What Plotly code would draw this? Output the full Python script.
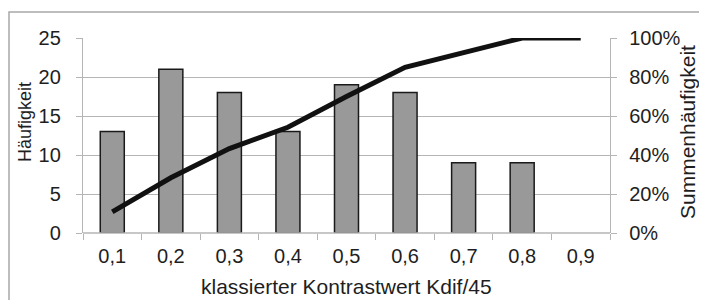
import plotly.graph_objects as go

categories = ["0,1", "0,2", "0,3", "0,4", "0,5", "0,6", "0,7", "0,8", "0,9"]
haeufigkeit = [13, 21, 18, 13, 19, 18, 9, 9, 0]
summenhaeufigkeit = [0.108, 0.283, 0.433, 0.542, 0.70, 0.85, 0.925, 1.0, 1.0]
left_ticks = [0, 5, 10, 15, 20, 25]
right_ticks = [0, 0.2, 0.4, 0.6, 0.8, 1.0]

FONT = "Liberation Sans, Arial, sans-serif"
TXT = "#1e1e1e"
GRID = "#b5b5b5"

# page has an 8px body margin; plot area spans page x 83..610, y 38..233
PX0, PW, PY0, PH = 83, 527, 38, 195


def px(x):
    return (x - PX0) / PW


def py(y):
    return (PY0 + PH - y) / PH


fig = go.Figure()
fig.add_trace(go.Bar(
    x=categories, y=haeufigkeit, width=0.41,
    marker=dict(color="#999999",
                line=dict(color="#1a1a1a", width=[1.5 if v else 0 for v in haeufigkeit])),
    yaxis="y", showlegend=False,
))
fig.add_trace(go.Scatter(
    x=categories, y=summenhaeufigkeit, mode="lines",
    line=dict(color="#111111", width=5),
    yaxis="y2", cliponaxis=False, showlegend=False,
))

fig.update_layout(
    width=699, height=292,
    margin=dict(l=75, r=97, t=30, b=67),
    paper_bgcolor="white", plot_bgcolor="white",
    font=dict(family=FONT, size=20, color=TXT),
    xaxis=dict(
        type="category", tickson="boundaries", ticks="outside", ticklen=6,
        tickcolor=GRID, tickwidth=1.3, showline=False, showgrid=False,
        tickfont=dict(size=20), ticklabelstandoff=9,
    ),
    yaxis=dict(
        range=[0, 25], tickvals=left_ticks, ticks="outside", ticklen=6,
        tickcolor=GRID, tickwidth=1.3, showgrid=True, gridcolor=GRID, gridwidth=1.3,
        showline=True, linecolor=GRID, linewidth=1.3, zeroline=False,
        tickfont=dict(size=20), ticklabelstandoff=11,
    ),
    yaxis2=dict(
        range=[0, 1], tickvals=right_ticks, tickformat=".0%", overlaying="y",
        side="right", ticks="outside", ticklen=6, tickcolor=GRID, tickwidth=1.3,
        showgrid=False, showline=True, linecolor=GRID, linewidth=1.3, zeroline=False,
        tickfont=dict(size=20), ticklabelstandoff=8,
    ),
    shapes=[
        dict(type="line", xref="paper", yref="paper", x0=0, x1=1, y0=0, y1=0,
             line=dict(color=GRID, width=1.3)),
        dict(type="rect", xref="paper", yref="paper",
             x0=px(9), x1=px(712), y0=py(305), y1=py(12),
             line=dict(color="#a8a8a8", width=1.5), layer="below"),
    ],
    annotations=[
        dict(text="Häufigkeit", textangle=-90, xref="paper", yref="paper",
             x=px(25), y=py(122), showarrow=False,
             xanchor="center", yanchor="middle", font=dict(size=18)),
        dict(text="Summenhäufigkeit", textangle=-90, xref="paper", yref="paper",
             x=px(688), y=py(132), showarrow=False,
             xanchor="center", yanchor="middle", font=dict(size=21)),
        dict(text="klassierter Kontrastwert Kdif/45", xref="paper", yref="paper",
             x=px(346), y=py(286), showarrow=False,
             xanchor="center", yanchor="middle", font=dict(size=21)),
    ],
)

fig.write_html("out.html")
